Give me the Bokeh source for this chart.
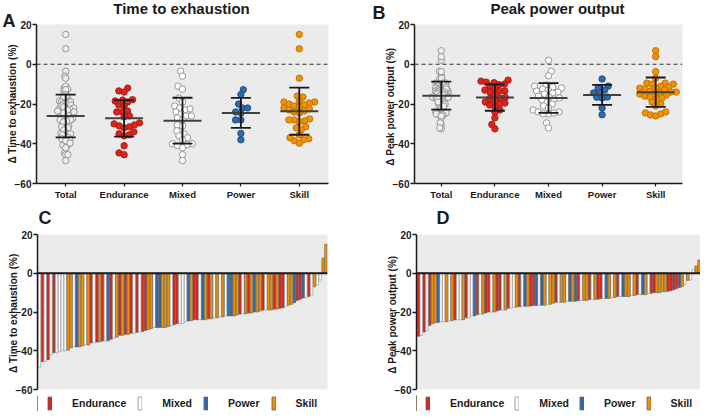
import math
import numpy as np
from bokeh.plotting import figure
from bokeh.models import Range1d, FixedTicker, Label, Span, Legend, LegendItem
from bokeh.layouts import column, row
from bokeh.embed import file_html
from bokeh.resources import INLINE

# ---------------- data ----------------
categories = ["Total", "Endurance", "Mixed", "Power", "Skill"]
groups = ["Endurance", "Mixed", "Power", "Skill"]
y_ticks = [20, 0, -20, -40, -60]

tte_endurance = [-12, -13.4, -14, -17.8, -18, -18.5, -19, -20.5, -21, -23.5, -24, -24, -26, -26.5,
                 -29.5, -30, -30.5, -31, -31.5, -32, -34, -35, -35.5, -36, -41, -44.6, -45.5]
tte_mixed = [-3.5, -6, -11, -12.5, -17, -19, -21, -22, -22.5, -23, -24, -25, -26, -26, -27, -28,
             -30.5, -31, -33.5, -35, -36, -37, -38, -40, -40, -40.5, -41, -42, -45.5, -48.5]
tte_power = [-12.8, -15.2, -20, -22, -22, -24, -24.6, -28, -28, -34.8, -38]
tte_skill = [15, 7.8, -7, -16, -16.5, -18.5, -19, -19, -19.5, -20, -20.5, -21, -21.5, -22, -22.5,
             -23, -23.5, -24, -24.5, -27.5, -28, -28, -28.5, -29, -31.5, -32, -33, -35.5, -37,
             -37.5, -38, -38.5, -39.7]

ppo_endurance = [-8, -8.5, -9, -9.3, -10, -10.3, -11, -12, -13, -13.4, -13.5, -14, -15, -16.7,
                 -16.9, -17.2, -18, -19, -19.5, -20, -20.5, -21.3, -23, -24, -27, -30.3, -32.5]
ppo_mixed = [2, -3.5, -5.8, -10.5, -11, -11.5, -12, -12.5, -13, -13.5, -14, -14.5, -15, -16, -16.5,
             -17, -17.5, -18, -19, -20, -21, -22, -23, -24, -24, -24.5, -25, -25, -29.5, -32]
ppo_power = [-7.4, -11, -12, -13, -14.4, -14.5, -16.5, -16.6, -17, -22, -25.4]
ppo_skill = [6.8, 3.8, -3.7, -7, -9.5, -9.5, -10, -10, -11, -11.5, -12, -12, -12.5, -13, -13.5,
             -14, -14, -14.5, -15, -15, -15.5, -16, -16.5, -17, -17.5, -19, -20, -21, -24, -24.5,
             -25, -25.5, -26]

tte = {"Endurance": tte_endurance, "Mixed": tte_mixed, "Power": tte_power, "Skill": tte_skill}
ppo = {"Endurance": ppo_endurance, "Mixed": ppo_mixed, "Power": ppo_power, "Skill": ppo_skill}

# ---------------- styling ----------------
FONT = "Liberation Sans"
BG = "#ebebeb"
INK = "#1a1a1a"
FILL = {"Endurance": "#E2231A", "Mixed": "#FFFFFF", "Power": "#2E6AAF", "Skill": "#F39200"}
EDGE = {"Endurance": "#A31812", "Mixed": "#8C8C8C", "Power": "#1F4A7A", "Skill": "#B96F00"}
BAR_EDGE = {"Endurance": "#5a5a5a", "Mixed": "#8a8a8a", "Power": "#5a5a5a", "Skill": "#5a5a5a"}
TXT_SHIFT = 5  # px correction for label baseline placement


def swarm_offsets(vals, d, ppy):
    order = sorted(range(len(vals)), key=lambda i: vals[i])
    placed = []
    out = [0.0] * len(vals)
    for n_, i in enumerate(order):
        y = vals[i] * ppy
        near = [(px, py) for px, py in placed if abs(py - y) < d]
        cands = [0.0]
        for px, py in near:
            dx = math.sqrt(max(d * d - (py - y) ** 2, 0.0))
            cands += [px + dx, px - dx]
        sgn = 1 if n_ % 2 == 0 else -1
        cands.sort(key=lambda c: (round(abs(c), 6), -sgn * c))
        for c in cands:
            if all((c - px) ** 2 + (y - py) ** 2 >= d * d - 1e-6 for px, py in near):
                out[i] = c
                placed.append((c, y))
                break
    return out


def style_common(p, ylabel):
    p.background_fill_color = BG
    p.border_fill_color = "white"
    p.outline_line_color = None
    p.xgrid.visible = False
    p.ygrid.visible = False
    ya = p.yaxis[0]
    ya.ticker = FixedTicker(ticks=y_ticks)
    ya.axis_label = ylabel
    ya.axis_label_text_font = FONT
    ya.axis_label_text_font_style = "bold"
    ya.axis_label_text_font_size = "10px"
    ya.axis_label_text_color = INK
    ya.axis_label_standoff = -6
    ya.major_label_text_font = FONT
    ya.major_label_text_font_style = "bold"
    ya.major_label_text_font_size = "10px"
    ya.major_label_text_color = INK
    ya.major_label_standoff = 1
    ya.major_tick_out = 4
    ya.major_tick_in = 0
    ya.minor_tick_line_color = None
    ya.axis_line_width = 1.5
    ya.major_tick_line_width = 1.5
    ya.axis_line_color = INK
    ya.major_tick_line_color = INK


def text_label(x, y, text, size, align="left", units="data", baseline="alphabetic"):
    return Label(x=x, y=y, x_units=units, y_units=units, text=text, text_align=align,
                 text_baseline=baseline, text_font=FONT, text_font_style="bold",
                 text_font_size=size, text_color=INK)


def blank_strip(W, H):
    q = figure(width=W, height=H, x_range=Range1d(0, 1), y_range=Range1d(0, 1),
               output_backend="svg", toolbar_location=None,
               x_axis_location=None, y_axis_location=None,
               min_border_left=0, min_border_right=0, min_border_top=0, min_border_bottom=0)
    q.grid.visible = False
    q.outline_line_color = None
    q.background_fill_color = "white"
    q.border_fill_color = "white"
    return q


def scatter_panel(data, title, ylabel, letter, W, bl, br, title_dx, letter_dx, letter_dy, dtot):
    H, bt, bb = 202, 24, 17
    p = figure(width=W, height=H, x_range=Range1d(0, 5), y_range=Range1d(-60, 20),
               output_backend="svg", toolbar_location=None,
               min_border_left=bl, min_border_right=br, min_border_top=bt, min_border_bottom=bb)
    style_common(p, ylabel)
    xa = p.xaxis[0]
    xa.ticker = FixedTicker(ticks=[0.5, 1.5, 2.5, 3.5, 4.5])
    xa.major_label_overrides = {0.5 + k: c for k, c in enumerate(categories)}
    xa.major_label_text_font = FONT
    xa.major_label_text_font_style = "bold"
    xa.major_label_text_font_size = "9.5px"
    xa.major_label_text_color = INK
    xa.major_label_standoff = 2
    xa.major_tick_out = 3
    xa.major_tick_in = 0
    xa.minor_tick_line_color = None
    xa.axis_line_width = 1.5
    xa.major_tick_line_width = 1.2
    xa.axis_line_color = INK
    xa.major_tick_line_color = INK

    fw = W - bl - br
    fh = H - bt - bb
    ppx = fw / 5.0
    ppy = fh / 80.0

    p.add_layout(Span(location=0, dimension="width", line_color="#333333",
                      line_dash="4 3", line_width=1.2))

    total = []
    for g in groups:
        total += data[g]
    series = [("Total", total, "#eeeeee", "#8c8c8c", dtot)] + \
             [(g, data[g], FILL[g], EDGE[g], 5.4) for g in groups]
    for k, (name, vals, fc, lc, dcol) in enumerate(series):
        cx = k + 0.5
        offs = swarm_offsets(vals, dcol, ppy)
        xs = [cx + o / ppx for o in offs]
        p.scatter(xs, vals, size=6.4, fill_color=fc, line_color=lc, line_width=0.9)
        m = float(np.mean(vals))
        s = float(np.std(vals, ddof=1))
        hm = 19.0 / ppx
        hc = 10.0 / ppx
        p.segment(x0=[cx - hm], y0=[m], x1=[cx + hm], y1=[m], line_color="#404040", line_width=2)
        p.segment(x0=[cx, cx - hc, cx - hc], y0=[m - s, m + s, m - s],
                  x1=[cx, cx + hc, cx + hc], y1=[m + s, m + s, m - s],
                  line_color=INK, line_width=1.8)

    p.add_layout(text_label(2.5 + title_dx / ppx, 20 + (11.5 + TXT_SHIFT) / ppy, title,
                            "15px", "center"), "above")
    p.add_layout(text_label(letter_dx / ppx, 20 + (letter_dy + TXT_SHIFT) / ppy, letter,
                            "18px"), "right")
    return p


def bar_panel(data, ylabel, W, bl, br):
    H, bt, bb = 168, 7, 6
    items = sorted([(v, g) for g in groups for v in data[g]], key=lambda t: t[0])
    n = len(items)
    x0, x1 = -0.7, n - 0.45
    p = figure(width=W, height=H, x_range=Range1d(x0, x1), y_range=Range1d(-60, 20),
               output_backend="svg", toolbar_location=None,
               min_border_left=bl, min_border_right=br, min_border_top=bt, min_border_bottom=bb)
    style_common(p, ylabel)
    p.xaxis.visible = False
    for g in groups:
        idx = [i for i, (v, gg) in enumerate(items) if gg == g]
        vals = [items[i][0] for i in idx]
        p.vbar(x=idx, top=vals, bottom=0, width=0.86, fill_color=FILL[g],
               line_color=BAR_EDGE[g], line_width=0.6)
    p.add_layout(Span(location=0, dimension="width", line_color=INK, line_width=2))
    return p


def header_strip(W, letter, lx):
    q = blank_strip(W, 25)
    q.add_layout(text_label(lx, 0, letter, "18px", units="screen", baseline="bottom"))
    return q


def legend_strip(data, W, legend_dx, spacing):
    q = blank_strip(W, 16)
    rends = {}
    for g in groups:
        vals = data[g]
        # swatch renderers: bars kept outside the strip's visible range
        rends[g] = q.vbar(x=[-10 - i for i in range(len(vals))], top=vals, bottom=0, width=0.5,
                          fill_color=FILL[g], line_color=BAR_EDGE[g], line_width=0.8)
    legend = Legend(items=[LegendItem(label=g, renderers=[rends[g]]) for g in groups],
                    orientation="horizontal", location=(legend_dx, 0),
                    glyph_width=5, glyph_height=16, label_height=16, label_standoff=20,
                    spacing=spacing, padding=0, margin=0, border_line_color=None,
                    background_fill_alpha=0, label_text_font=FONT, label_text_font_style="bold",
                    label_text_font_size="10.5px", label_text_color=INK)
    q.add_layout(legend, "center")
    return q


pA = scatter_panel(tte, "Time to exhaustion", "\u0394 Time to exhaustion (%)", "A",
                   354, 36, 26, -1, -34, -1, 2.2)
pB = scatter_panel(ppo, "Peak power output", "\u0394  Peak power output  (%)", "B",
                   346, 60, 18, 9, -42, 7, 1.9)
hC = header_strip(354, "C", 1)
hD = header_strip(346, "D", 20)
pC = bar_panel(tte, "\u0394 Time to exhaustion  (%)", 354, 37, 27)
pD = bar_panel(ppo, "\u0394  Peak power output  (%)", 346, 62, 0)
lC = legend_strip(tte, 354, 10, 11)
lD = legend_strip(ppo, 346, 9, 10)

layout = column(row(pA, pB), row(column(hC, pC, lC), column(hD, pD, lD)))
open("out.html", "w").write(file_html(layout, INLINE))
